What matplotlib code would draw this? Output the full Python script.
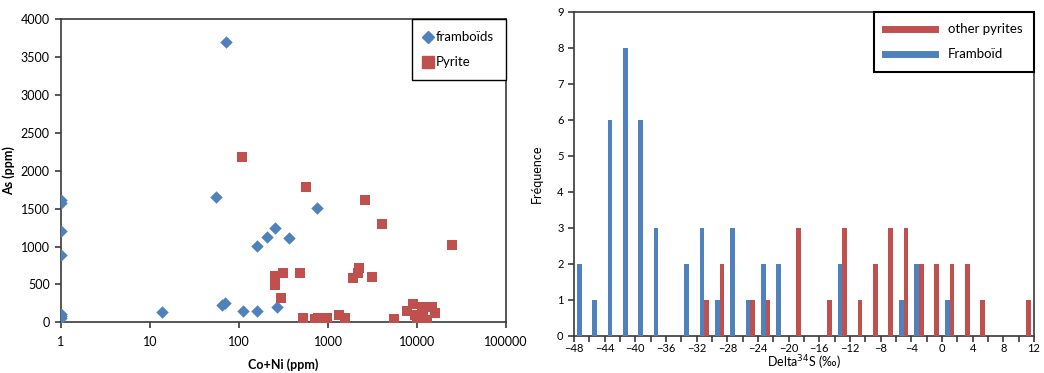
import matplotlib
matplotlib.use("Agg")
import matplotlib.pyplot as plt
from matplotlib.ticker import FixedLocator, FuncFormatter, MultipleLocator
from matplotlib.lines import Line2D
import numpy as np

plt.rcParams['font.family'] = ['Lato', 'DejaVu Sans']

# ---- Left panel data: As vs Co+Ni ----
framboid_coni = [1, 1, 1, 1, 1, 1, 1, 13.5, 55, 71, 65, 70, 110, 161, 161, 205, 256, 265, 361, 752]
framboid_as = [1620, 1570, 1200, 890, 110, 80, 50, 141, 1650, 3705, 230, 250, 154, 150, 1008, 1127, 1250, 202, 1113, 1514]

pyrite_coni = [109, 561, 2630, 4080, 24500, 256, 256, 310, 300, 481, 528, 715, 780, 967,
               1340, 1550, 1930, 2150, 2250, 3150, 5560, 7660, 9100, 9500, 9930, 11300,
               11800, 12800, 14600, 15900, 10800]
pyrite_as = [2178, 1782, 1615, 1298, 1016, 612, 493, 656, 317, 647, 62, 40, 62, 53,
             97, 53, 581, 656, 713, 603, 44, 153, 242, 96, 30, 206,
             119, 30, 206, 119, 53]

# ---- Right panel data: Delta34S histogram ----
bin_centers = [-47, -45, -43, -41, -39, -37, -35, -33, -31, -29, -27, -25, -23, -21, -19,
               -17, -15, -13, -11, -9, -7, -5, -3, -1, 1, 3, 5, 7, 9, 11]
framboid_counts = [2, 1, 6, 8, 6, 3, 0, 2, 3, 1, 3, 1, 2, 2, 0,
                   0, 0, 2, 0, 0, 0, 1, 2, 0, 1, 0, 0, 0, 0, 0]
other_counts = [0, 0, 0, 0, 0, 0, 0, 0, 1, 2, 0, 1, 1, 0, 3,
                0, 1, 3, 1, 2, 3, 3, 2, 2, 2, 2, 1, 0, 0, 1]

BLUE = '#4F81BD'
RED = '#C0504D'
SPINE = '#3a3a3a'

fig = plt.figure(figsize=(10.44, 3.73), dpi=100)

# ---------------- Left panel ----------------
ax1 = fig.add_axes([0.0584, 0.136, 0.4263, 0.812])
ax1.scatter(framboid_coni, framboid_as, marker='D', s=40, color=BLUE, linewidths=0, zorder=3)
ax1.scatter(pyrite_coni, pyrite_as, marker='s', s=55, color=RED, linewidths=0, zorder=3)
ax1.set_xscale('log')
ax1.set_xlim(1, 100000)
ax1.set_ylim(0, 4000)
ax1.xaxis.set_major_locator(FixedLocator([1, 10, 100, 1000, 10000, 100000]))
ax1.xaxis.set_minor_locator(FixedLocator([]))
ax1.xaxis.set_major_formatter(FuncFormatter(lambda v, p: f"{int(round(v))}"))
ax1.yaxis.set_major_locator(MultipleLocator(500))
ax1.tick_params(axis='both', direction='out', length=4, width=1.2, color=SPINE,
                labelsize=9, pad=4)
ax1.tick_params(axis='x', pad=6)
for sp in ax1.spines.values():
    sp.set_color(SPINE)
    sp.set_linewidth(1.2)
ax1.set_xlabel('Co+Ni (ppm)', fontsize=9, fontweight='bold', labelpad=7)
ax1.set_ylabel('As (ppm)', fontsize=9, fontweight='bold', labelpad=4)

h1 = [Line2D([], [], marker='D', color=BLUE, linestyle='None', markersize=6.5),
      Line2D([], [], marker='s', color=RED, linestyle='None', markersize=8)]
leg1 = ax1.legend(h1, ['framboïds', 'Pyrite'], loc='upper right', bbox_to_anchor=(1, 1),
                  borderaxespad=0, fancybox=False, edgecolor='black', framealpha=1,
                  fontsize=9.5, handlelength=0.6, handletextpad=0.3, borderpad=0.9,
                  labelspacing=1.0)
leg1.get_frame().set_linewidth(1.0)

# ---------------- Right panel ----------------
ax2 = fig.add_axes([0.5498, 0.1, 0.4406, 0.868])
centers = np.array(bin_centers, dtype=float)
w = 0.6
ax2.bar(centers - w / 2, framboid_counts, width=w, color=BLUE, edgecolor='none', zorder=3)
ax2.bar(centers + w / 2, other_counts, width=w, color=RED, edgecolor='none', zorder=3)
ax2.set_xlim(-48, 12)
ax2.set_ylim(0, 9)
ax2.xaxis.set_major_locator(MultipleLocator(4))
ax2.xaxis.set_minor_locator(MultipleLocator(2))
ax2.yaxis.set_major_locator(MultipleLocator(1))
ax2.tick_params(axis='both', which='both', direction='out', length=4, width=1.2,
                color=SPINE, labelsize=8)
ax2.tick_params(axis='x', pad=1.5)
for sp in ax2.spines.values():
    sp.set_color(SPINE)
    sp.set_linewidth(1.2)
ax2.set_xlabel('Delta$^{34}$S (‰)', fontsize=9, labelpad=-1)
ax2.set_ylabel('Fréquence', fontsize=9, labelpad=10)

h2 = [Line2D([], [], color=RED, linewidth=5),
      Line2D([], [], color=BLUE, linewidth=5)]
leg2 = ax2.legend(h2, ['other pyrites', 'Framboïd'], loc='upper right', bbox_to_anchor=(1, 1),
                  borderaxespad=0, fancybox=False, edgecolor='black', framealpha=1,
                  fontsize=9.5, handlelength=3.8, handletextpad=1.0, borderpad=0.85,
                  labelspacing=1.0)
leg2.get_frame().set_linewidth(1.5)

fig.savefig('out.png', dpi=100)
